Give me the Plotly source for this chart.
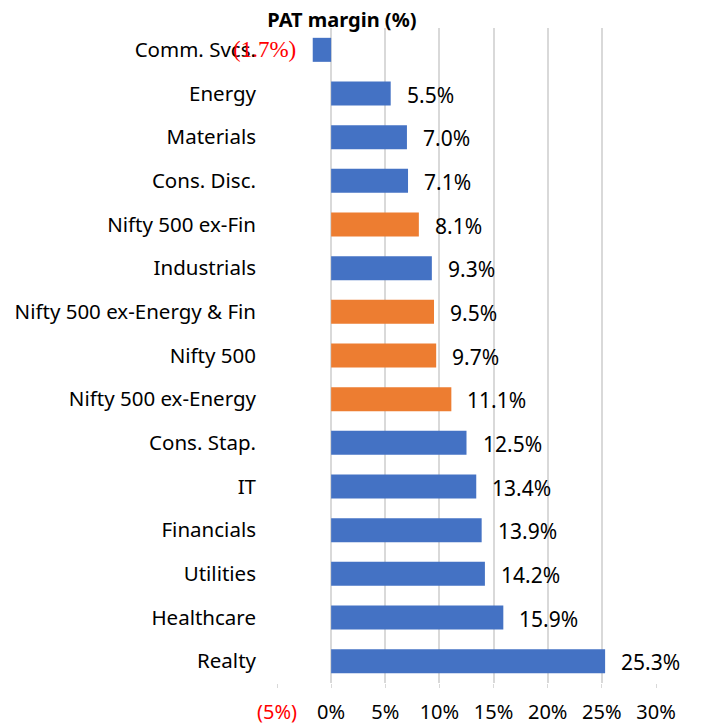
import plotly.graph_objects as go

categories = ["Comm. Svcs.", "Energy", "Materials", "Cons. Disc.", "Nifty 500 ex-Fin",
              "Industrials", "Nifty 500 ex-Energy & Fin", "Nifty 500", "Nifty 500 ex-Energy",
              "Cons. Stap.", "IT", "Financials", "Utilities", "Healthcare", "Realty"]
values = [-1.7, 5.5, 7.0, 7.1, 8.1, 9.3, 9.5, 9.7, 11.1, 12.5, 13.4, 13.9, 14.2, 15.9, 25.3]
is_index = [False, False, False, False, True, False, True, True, True,
            False, False, False, False, False, False]
tick_vals = [-5, 0, 5, 10, 15, 20, 25, 30]
tick_text = ['<span style="color:#FF0000">(5%)</span>', "0%", "5%", "10%", "15%", "20%", "25%", "30%"]

BLUE = "#4472C4"
ORANGE = "#ED7D31"
FONT = "Noto Sans"

colors = [ORANGE if f else BLUE for f in is_index]

fig = go.Figure(go.Bar(
    x=values, y=categories, orientation="h",
    marker=dict(color=colors, line=dict(width=0)),
    width=0.55,
))

for c, v in zip(categories, values):
    if v >= 0:
        fig.add_annotation(x=v, y=c, text=f"{v:.1f}%", showarrow=False,
                           xanchor="left", xshift=14, yshift=-1,
                           font=dict(family=FONT, size=21, color="#000000"))
    else:
        fig.add_annotation(x=v, y=c, text=f"({abs(v):.1f}%)", showarrow=False,
                           xanchor="right", xshift=-15,
                           font=dict(family="Liberation Serif", size=23, color="#FF0000"))

fig.update_layout(
    width=702, height=725,
    margin=dict(l=277, r=46, t=28, b=42, autoexpand=False),
    paper_bgcolor="white", plot_bgcolor="white",
    showlegend=False,
    font=dict(family=FONT, size=20, color="#000000"),
    title=dict(text="<b>PAT margin (%)</b>", x=0.487, xanchor="center",
               y=0.972, yanchor="middle", font=dict(family=FONT, size=20, color="#000000")),
    bargap=0.45,
)
fig.update_xaxes(range=[-5, 30], tickvals=tick_vals, ticktext=tick_text,
                 showgrid=True, gridcolor="#D9D9D9", gridwidth=2,
                 zeroline=False, showline=False, automargin=False,
                 ticks="outside", ticklen=4, tickcolor="#D9D9D9", tickwidth=1,
                 ticklabelstandoff=7, tickfont=dict(family=FONT, size=20),
                 fixedrange=True)
fig.update_yaxes(autorange="reversed", showgrid=False, zeroline=False, showline=False,
                 automargin=False, ticks="", ticklabelstandoff=20,
                 tickfont=dict(family=FONT, size=20.5), fixedrange=True)

fig.write_html("out.html")
